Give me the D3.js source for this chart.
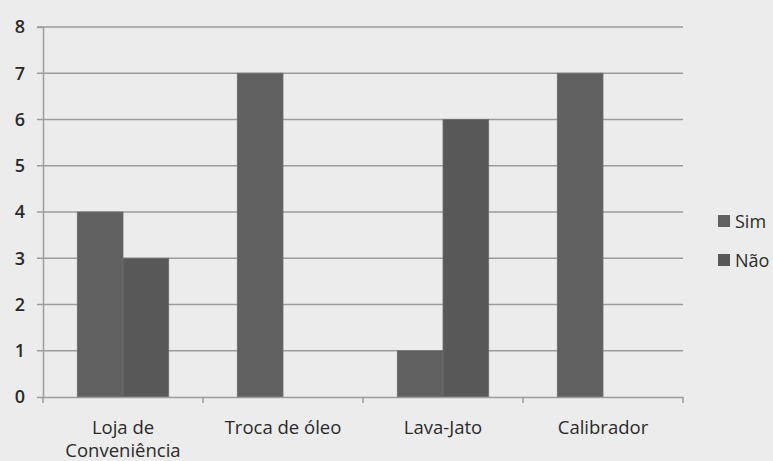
<!DOCTYPE html>
<html>
<head>
<meta charset="utf-8">
<script src="https://cdn.jsdelivr.net/npm/d3@7"></script>
<style>
  body { margin: 0; background: #ececec; }
  text { font-family: "Open Sans", "Liberation Sans", sans-serif; fill: #2a2a2a; }
</style>
</head>
<body>
<div class="chart"></div>
<script>
var categories = ["Loja de|Conveniência", "Troca de óleo", "Lava-Jato", "Calibrador"];
var seriesNames = ["Sim", "Não"];
var simValues = [4, 7, 1, 7];
var naoValues = [3, 0, 6, 0];
var yTicks = [0, 1, 2, 3, 4, 5, 6, 7, 8];

var svgWidth = 773;
var svgHeight = 461;
var margin = { top: 27, right: 90, bottom: 64, left: 43 };
var width = svgWidth - margin.left - margin.right;
var height = svgHeight - margin.top - margin.bottom;

var svg = d3.select(".chart")
  .append("svg")
  .attr("width", svgWidth)
  .attr("height", svgHeight);

svg.append("rect")
  .attr("width", svgWidth)
  .attr("height", svgHeight)
  .attr("fill", "#ececec");

var chartGroup = svg.append("g")
  .attr("transform", `translate(${margin.left}, ${margin.top})`);

var data = categories.map(function (c, i) {
  return { cat: c, values: [simValues[i], naoValues[i]] };
});

var x0 = d3.scaleBand()
  .domain(categories)
  .range([0, width]);

// bar width = band / 3.5 (gap 150%)
var barW = x0.bandwidth() / 3.5;
var x1 = d3.scaleBand()
  .domain(seriesNames)
  .range([0, barW * 2]);

var y = d3.scaleLinear()
  .domain([0, 8])
  .range([height, 0]);

var colors = { "Sim": "#606060", "Não": "#585858" };

// gridlines
chartGroup.append("g")
  .selectAll("line")
  .data(yTicks.slice(1))
  .enter()
  .append("line")
  .attr("x1", -6)
  .attr("x2", width)
  .attr("y1", d => y(d))
  .attr("y2", d => y(d))
  .attr("stroke", "#9c9c9c")
  .attr("stroke-width", 1.5);

// bars
var groups = chartGroup.selectAll(".cat")
  .data(data)
  .enter()
  .append("g")
  .attr("transform", d => `translate(${x0(d.cat) + x0.bandwidth() / 2 - barW}, 0)`);

groups.selectAll("rect")
  .data(d => d.values.map((v, i) => ({ key: seriesNames[i], value: v })))
  .enter()
  .append("rect")
  .attr("x", d => x1(d.key))
  .attr("y", d => y(d.value))
  .attr("width", x1.bandwidth())
  .attr("height", d => height - y(d.value))
  .attr("fill", d => colors[d.key])
  .attr("stroke", "#6e6e6e")
  .attr("stroke-width", 0.8);

// y axis
var leftAxis = d3.axisLeft(y).tickValues(yTicks).tickSize(6).tickPadding(12);
var yAxis = chartGroup.append("g").call(leftAxis);
yAxis.select(".domain").attr("stroke", "#9c9c9c").attr("stroke-width", 1.5);
yAxis.selectAll(".tick line").remove();
yAxis.selectAll("text")
  .attr("font-size", "18px")
  .attr("font-weight", "600")
  .attr("fill", "#2a2a2a");

// x axis
var bottomAxis = d3.axisBottom(x0).tickSize(0).tickFormat("");
var xAxis = chartGroup.append("g")
  .attr("transform", `translate(0, ${height})`)
  .call(bottomAxis);
xAxis.select(".domain").attr("stroke", "#9c9c9c").attr("stroke-width", 1.5);

// category ticks at boundaries
chartGroup.append("g")
  .selectAll("line")
  .data(d3.range(categories.length + 1))
  .enter()
  .append("line")
  .attr("x1", i => i * x0.step())
  .attr("x2", i => i * x0.step())
  .attr("y1", height)
  .attr("y2", height + 6)
  .attr("stroke", "#9c9c9c")
  .attr("stroke-width", 1.5);

// category labels
var catLabels = chartGroup.append("g")
  .selectAll("text")
  .data(categories)
  .enter()
  .append("text")
  .attr("text-anchor", "middle")
  .attr("font-size", "18.5px")
  .attr("x", d => x0(d) + x0.bandwidth() / 2)
  .attr("y", height + 37);

catLabels.each(function (d) {
  var lines = d.split("|");
  var t = d3.select(this);
  lines.forEach(function (l, i) {
    t.append("tspan")
      .attr("x", x0(d) + x0.bandwidth() / 2)
      .attr("dy", i === 0 ? 0 : 23)
      .text(l);
  });
});

// legend
var legend = svg.append("g")
  .attr("transform", "translate(718, 221)");

legend.selectAll("rect")
  .data(seriesNames)
  .enter()
  .append("rect")
  .attr("x", 0)
  .attr("y", (d, i) => i * 39 - 6)
  .attr("width", 12)
  .attr("height", 12)
  .attr("fill", d => colors[d]);

legend.selectAll("text")
  .data(seriesNames)
  .enter()
  .append("text")
  .attr("x", 17)
  .attr("y", (d, i) => i * 39 + 7)
  .attr("font-size", "18px")
  .text(d => d);
</script>
</body>
</html>
